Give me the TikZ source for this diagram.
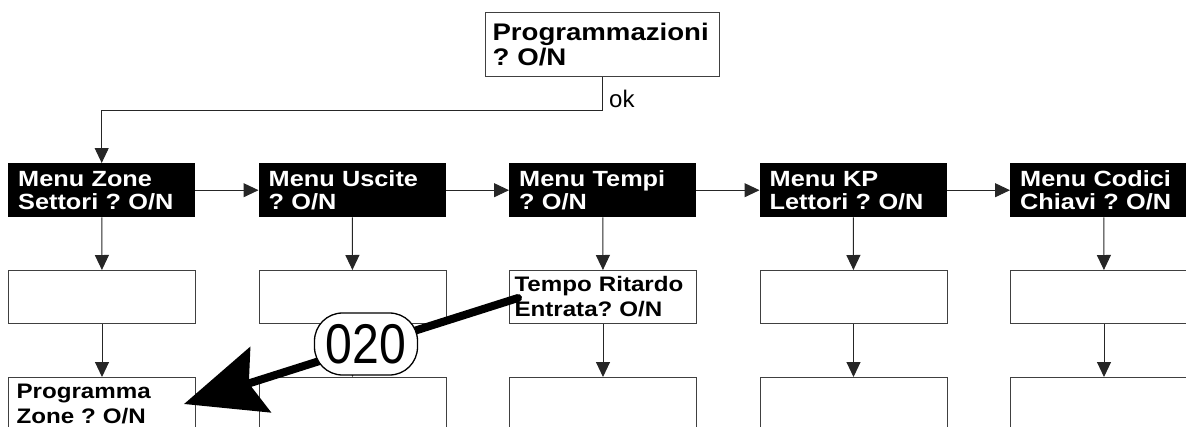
\documentclass[tikz,border=0pt]{standalone}
\usepackage{fontspec}
\newfontfamily\boxfont{Liberation Sans}[FakeStretch=1.15]
\newfontfamily\numfont{Liberation Sans}[FakeStretch=0.86]
\newfontfamily\labelfont{Liberation Sans}
\usetikzlibrary{arrows.meta}
\frenchspacing

\begin{document}
\begin{tikzpicture}[x=1pt, y=-1pt,
  menu/.style={anchor=north west, fill=black, text=white, minimum width=187pt, minimum height=54pt, inner xsep=10pt, inner ysep=2pt, text width=167pt, align=left, font=\boxfont\bfseries\fontsize{22}{23}\selectfont},
  slot/.style={anchor=north west, draw=black!75, line width=1pt, fill=white, minimum width=187pt, minimum height=53pt, inner xsep=5pt, inner ysep=2pt, text width=177pt, align=left, font=\boxfont\bfseries\fontsize{21}{25}\selectfont},
  flow/.style={draw=black!85, line width=1pt, -{Triangle[length=15pt,width=14pt]}}]
\useasboundingbox (0,0) rectangle (1186,426);
\clip (0,0) rectangle (1186,426);
\node[slot, minimum width=234pt, minimum height=64pt, inner xsep=7pt, text width=220pt, font=\boxfont\bfseries\fontsize{24}{25}\selectfont] (title) at (485,12) {Programmazioni\\? O/N};
\node[anchor=base west, inner sep=0pt, font=\labelfont\fontsize{24}{24}\selectfont] (ok) at (609,107) {ok};
\node[menu] (zone) at (8,163) {Menu Zone\\Settori ? O/N};
\node[menu] (usc) at (258.5,163) {Menu Uscite\\? O/N};
\node[menu] (tempi) at (509,163) {Menu Tempi\\? O/N};
\node[menu] (kp) at (759.5,163) {Menu KP\\Lettori ? O/N};
\node[menu] (cod) at (1010,163) {Menu Codici\\Chiavi ? O/N};
\node[slot] (zoneb) at (8,270) {};
\node[slot] (uscb) at (258.5,270) {};
\node[slot] (ritardo) at (509,270) {Tempo Ritardo\\Entrata? O/N};
\node[slot] (kpb) at (759.5,270) {};
\node[slot] (codb) at (1010,270) {};
\node[slot, inner xsep=8pt, text width=171pt] (progzone) at (8,377) {Programma\\Zone ? O/N};
\node[slot] (uscc) at (258.5,377) {};
\node[slot] (tempic) at (509,377) {};
\node[slot] (kpc) at (759.5,377) {};
\node[slot] (codc) at (1010,377) {};
\draw[flow] (title.south) -- ++(0,33) -| (zone.north);
\draw[flow] (zone) -- (usc);
\draw[flow] (usc) -- (tempi);
\draw[flow] (tempi) -- (kp);
\draw[flow] (kp) -- (cod);
\draw[flow] (zone) -- (zoneb);
\draw[flow] (usc) -- (uscb);
\draw[flow] (tempi) -- (ritardo);
\draw[flow] (kp) -- (kpb);
\draw[flow] (cod) -- (codb);
\draw[flow] (zoneb) -- (progzone);
\draw[flow] (uscb) -- (uscc);
\draw[flow] (ritardo) -- (tempic);
\draw[flow] (kpb) -- (kpc);
\draw[flow] (codb) -- (codc);
\coordinate (grab) at (518,298);
\draw[line width=8pt, line cap=round, -{Stealth[length=80pt,width=68pt,inset=12pt]}] (grab) -- ([xshift=-12pt]progzone.east);
\node[draw, fill=white, line width=1.3pt, rounded corners=28pt, minimum width=103pt, minimum height=62pt, inner sep=0pt, font=\numfont\fontsize{56}{56}\selectfont] (code) at (366,344) {020};
\end{tikzpicture}
\end{document}
